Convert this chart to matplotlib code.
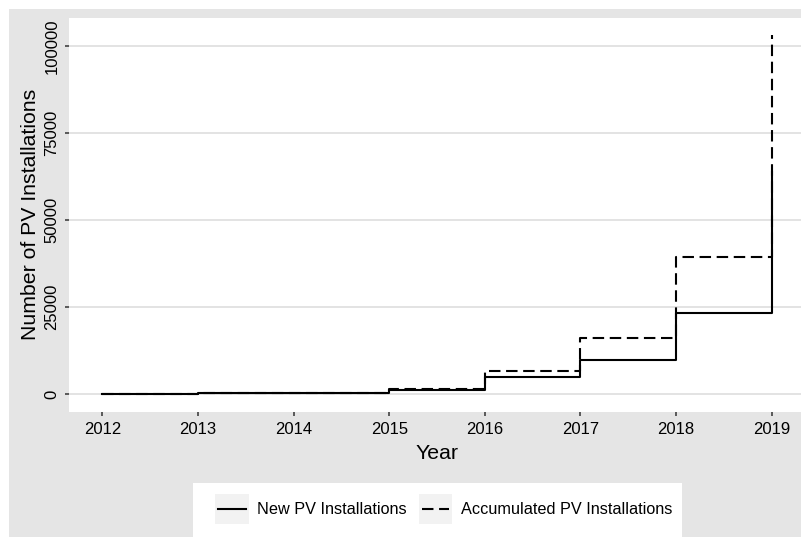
import matplotlib
matplotlib.use("Agg")
import matplotlib.pyplot as plt
from matplotlib.patches import Rectangle
from matplotlib.legend_handler import HandlerLine2D

plt.rcParams['font.family'] = ['Liberation Sans', 'DejaVu Sans']

# values
years = [2012, 2013, 2014, 2015, 2016, 2017, 2018, 2019]
new_pv = [30, 170, 300, 1150, 5000, 9800, 23400, 63800]
acc_pv = [30, 200, 450, 1550, 6500, 16200, 39500, 103000]
ytick_vals = [0, 25000, 50000, 75000, 100000]

bg = '#E5E5E5'
W, H = 801, 537
KEY = 21.6  # key square side, points


class KeyHandler(HandlerLine2D):
    # grey key square behind the line, like ggplot
    def create_artists(self, legend, orig_handle, xdescent, ydescent,
                       width, height, fontsize, trans):
        arts = super().create_artists(legend, orig_handle, xdescent, ydescent,
                                      width, height, fontsize, trans)
        pad = self._xpad * fontsize
        yline = arts[0].get_ydata()[0]
        box = Rectangle((-xdescent - pad, yline - KEY / 2), width + 2 * pad, KEY,
                        facecolor='#F2F2F2', edgecolor='none', transform=trans)
        return [box] + list(arts)


fig = plt.figure(figsize=(W / 100, H / 100), dpi=100)
fig.patch.set_facecolor('white')
fig.patches.append(Rectangle((9 / W, 0), 1, (H - 9) / H, transform=fig.transFigure,
                             facecolor=bg, edgecolor='none', zorder=-10))
# legend box
fig.patches.append(Rectangle((193 / W, 0), (682 - 193) / W, (H - 483) / H,
                             transform=fig.transFigure, facecolor='white',
                             edgecolor='none', zorder=-5))

ax = fig.add_axes([69 / W, (H - 412) / H, 736 / W, 394.5 / H])
ax.set_facecolor('white')
for s in ax.spines.values():
    s.set_visible(False)

l1, = ax.plot(years, new_pv, drawstyle='steps-post', color='black', lw=1.5,
              label='New PV Installations')
l2, = ax.plot(years, acc_pv, drawstyle='steps-post', color='black', lw=1.5,
              dashes=(5.5, 2.7), label='Accumulated PV Installations')
l1.set_zorder(3)

ax.set_xlim(2011.65, 2019.35)
ax.set_ylim(-5150, 108150)
ax.set_xticks(years)
ax.set_yticks(ytick_vals)
ax.set_yticklabels([str(v) for v in ytick_vals], rotation=90, va='center')
ax.yaxis.grid(True, color='#E3E3E3', lw=1.4)
ax.set_axisbelow(True)
ax.tick_params(axis='both', length=3, width=1.1, color='#333333',
               labelsize=12, labelcolor='black', pad=4)

ax.set_xlabel('Year', fontsize=15.3, labelpad=5)
ax.set_ylabel('Number of PV Installations', fontsize=15.3, labelpad=3)

leg = fig.legend(handles=[l1, l2], loc='center left',
                 bbox_to_anchor=(215 / W, (H - 510) / H),
                 ncol=2, fontsize=11.7, frameon=False,
                 handlelength=1.9, handletextpad=0.68,
                 columnspacing=0.74, borderpad=0, borderaxespad=0,
                 handler_map={l1: KeyHandler(xpad=0.18), l2: KeyHandler(xpad=0.18)})

fig.savefig('out.png', dpi=100)
